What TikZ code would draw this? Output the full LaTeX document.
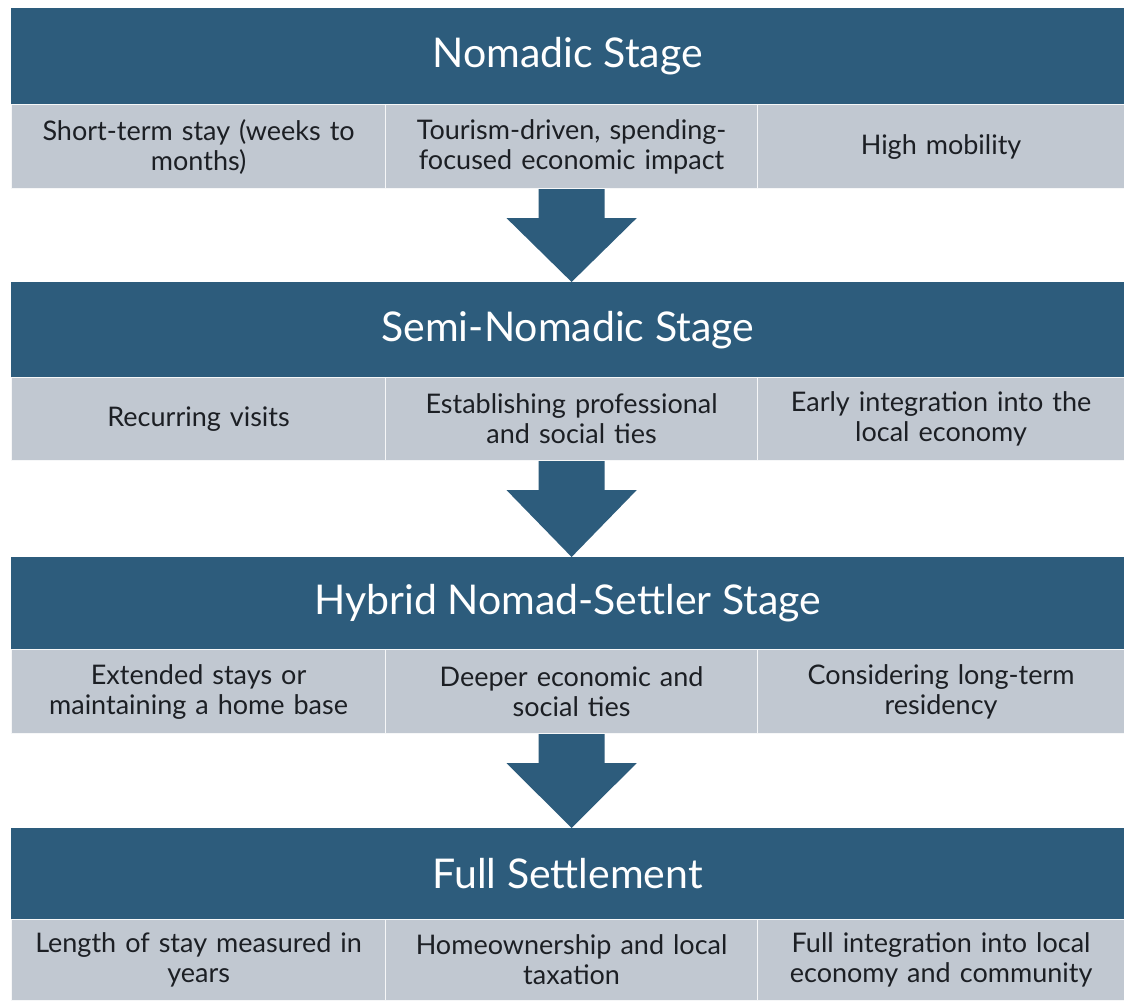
\documentclass[tikz,border=0pt]{standalone}
\usepackage{fontspec}
\setmainfont{Lato}
\usetikzlibrary{calc}
\definecolor{hdrblue}{HTML}{2D5C7C}
\definecolor{cellgray}{HTML}{C1C8D1}
\definecolor{txtdark}{HTML}{1C1F24}
\newcommand\stagearrow[2]{%
  \fill[hdrblue] ($(#1.south)+(-33,0)$) -- ($(#1.south)+(33,0)$) -- ($(#1.south)+(33,29)$)
    -- ($(#1.south)+(65,29)$) -- (#2.north -| #1.south) -- ($(#1.south)+(-65,29)$)
    -- ($(#1.south)+(-33,29)$) -- cycle;}
\begin{document}
\begin{tikzpicture}[x=1pt,y=-1pt,
  hdr/.style={fill=hdrblue, text=white, anchor=north west, inner sep=0pt,
    minimum width=1113pt, minimum height=#1,
    font=\fontsize{41}{46}\selectfont},
  cell/.style={fill=cellgray, draw=white!85!cellgray, line width=1.2pt, text=txtdark,
    anchor=north west, inner sep=0pt, align=center, text width=360pt,
    minimum height=#1, font=\fontsize{27}{30}\selectfont},
  cA/.style={cell=#1, minimum width=374pt},
  cB/.style={cell=#1, minimum width=372pt},
  cC/.style={cell=#1, minimum width=367pt},
]
\useasboundingbox (0,0) rectangle (1124,1003);
\fill[white] (0,0) rectangle (1124,1003);

% Stage 1
\node[hdr=96pt] (h1) at (11,8) {Nomadic Stage};
\node[cA=84pt] (c11) at (11,104) {Short-term stay (weeks to\\months)};
\node[cB=84pt] (c12) at (385,104) {Tourism-driven, spending-\\focused economic impact};
\node[cC=84pt] (c13) at (757,104) {High mobility};

% Stage 2
\node[hdr=95pt] (h2) at (11,282) {Semi-Nomadic Stage};
\node[cA=83pt] (c21) at (11,377) {Recurring visits};
\node[cB=83pt] (c22) at (385,377) {Establishing professional\\and social ties};
\node[cC=83pt] (c23) at (757,377) {Early integration into the\\local economy};

% Stage 3
\node[hdr=92pt] (h3) at (11,557) {Hybrid Nomad-Settler Stage};
\node[cA=84pt] (c31) at (11,649) {Extended stays or\\maintaining a home base};
\node[cB=84pt] (c32) at (385,649) {Deeper economic and\\social ties};
\node[cC=84pt] (c33) at (757,649) {Considering long-term\\residency};

% Stage 4
\node[hdr=91pt] (h4) at (11,828) {Full Settlement};
\node[cA=81pt] (c41) at (11,919) {Length of stay measured in\\years};
\node[cB=81pt] (c42) at (385,919) {Homeownership and local\\taxation};
\node[cC=81pt] (c43) at (757,919) {Full integration into local\\economy and community};

% Arrows
\stagearrow{c12}{h2}
\stagearrow{c22}{h3}
\stagearrow{c32}{h4}
\end{tikzpicture}
\end{document}
